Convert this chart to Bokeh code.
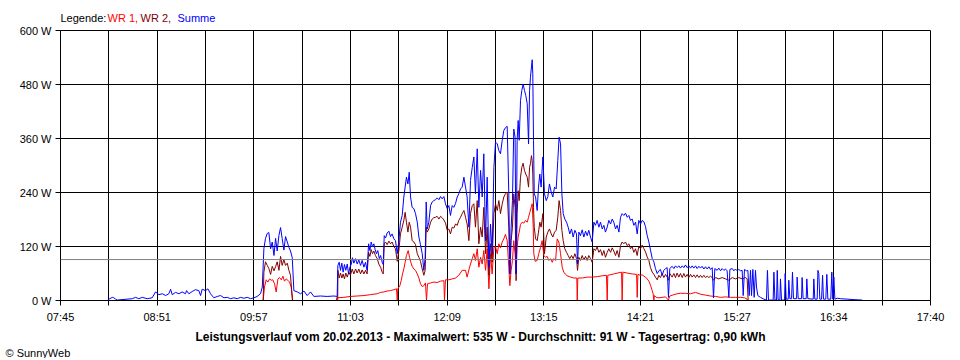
from bokeh.plotting import figure
from bokeh.models import Range1d, FixedTicker, Span, Label, Title
from bokeh.layouts import column
from bokeh.embed import file_html
from bokeh.resources import INLINE

nan = float("nan")

# ---- axis definitions (minutes since midnight, watts) ----
X_START = 465   # 07:45
X_END = 1060    # 17:40
X_TICK_LABELS = ["07:45", "08:51", "09:57", "11:03", "12:09",
                 "13:15", "14:21", "15:27", "16:34", "17:40"]
Y_TICKS = [0, 120, 240, 360, 480, 600]
Y_TICK_LABELS = ["0 W", "120 W", "240 W", "360 W", "480 W", "600 W"]
AVERAGE_W = 91
LEGEND_PREFIX = "Legende: "
SERIES_NAMES = ["WR 1,", "WR 2,", "Summe"]
CAPTION = ("Leistungsverlauf vom 20.02.2013 - Maximalwert: 535 W - "
           "Durchschnitt: 91 W - Tagesertrag: 0,90 kWh")
COPYRIGHT = "\u00a9 SunnyWeb"

# ---- Summe (blue) ----
SUM_T = [497.4, 500.4, 501.5, 502.7, 503.8, 514.1, 516.3, 518.6, 520.9, 524.3,
         527.7, 530.0, 532.3, 534.6, 536.9, 539.1, 540.3, 541.4, 543.7, 546.0,
         548.2, 550.5, 551.2, 552.8, 555.1, 557.3, 559.6, 560.8, 561.9, 564.2,
         565.8, 567.6, 569.9, 572.2, 574.5, 576.8, 579.0, 581.3, 583.6, 585.9,
         588.2, 590.4, 592.7, 595.0, 597.3, 599.5, 601.8, 603.0, 604.1, 605.2,
         606.4, 607.5, 608.7, 609.8, 611.0, 612.1, 613.2, 614.4, 615.5, 616.6,
         617.8, 618.9, 620.1, 621.2, 622.3, 623.5, 624.6, 626.9, 629.2, 631.5,
         633.7, 636.0, 638.3, 642.8, 647.4, 652.0, 654.2,
         654.7, 655.6, 656.5, 657.4, 658.3, 659.2, 660.1, 661.1, 662.0, 662.9,
         663.8, 664.7, 665.6, 666.8, 667.9, 669.0, 670.2, 671.3, 672.5, 673.6,
         674.7, 675.7, 676.6, 677.5, 678.4, 679.3, 680.2, 681.1, 682.0, 683.0,
         683.9, 685.0, 685.7, 686.4, 687.3, 688.4, 689.6, 690.7, 691.8, 693.0,
         694.1, 695.3, 696.4, 697.5, 698.7, 699.8, 700.7, 701.6, 702.6, 703.5,
         704.4, 705.5, 706.7, 707.8, 709.0, 710.1, 711.2, 712.4, 713.5, 714.4,
         715.1, 715.8, 716.9, 718.1, 719.2, 720.3, 721.5, 722.6, 723.8, 724.9,
         726.0, 727.2, 728.3, 729.5, 730.6, 731.7, 732.9, 734.0, 735.2, 736.3,
         737.4, 738.6, 739.7, 740.9, 742.0, 743.1, 744.3, 745.4, 746.6, 747.7,
         748.8, 750.0, 751.1, 752.3, 753.4, 754.5, 755.7, 756.8, 758.0, 759.1,
         760.2, 761.4, 762.5, 763.7, 764.8,
         765.9, 767.1, 768.2, 769.3, 770.5, 771.6, 772.3, 773.2, 774.1, 775.0,
         775.9, 776.6, 777.3, 778.0, 778.7, 779.6, 780.5, 781.4, 782.3, 783.2,
         784.2, 785.1, 785.8, 786.4, 787.1, 787.6, 788.0, 788.5, 789.0, 789.9,
         791.0, 791.9, 792.8, 793.7, 794.9, 796.0, 797.2, 798.3, 799.4, 800.6,
         801.7, 802.9, 804.0, 805.1, 806.0, 807.0, 807.9, 808.8, 809.9, 811.1,
         812.2, 813.3, 814.5, 815.6, 816.8, 817.9, 818.6, 819.5, 820.6, 821.8,
         822.9, 824.1, 825.2, 826.3, 827.5, 828.6, 829.8, 830.9, 832.0, 833.2,
         834.3, 835.5, 836.6, 837.7, 838.9, 840.0, 841.2, 842.3, 843.4, 844.6,
         845.7, 846.9, 848.0, 849.1, 850.3, 851.4, 852.6, 853.7, 854.8, 856.0,
         857.1, 858.3, 859.4, 860.5, 861.7, 862.8,
         864.0, 865.1, 866.2, 867.4, 868.5, 869.7, 870.8, 871.9, 873.1, 874.2,
         875.3, 876.5, 877.6, 878.8, 879.9, 880.8, 881.7, 883.3, 884.5, 885.6,
         886.7, 887.9, 889.0, 890.2, 891.3, 892.4, 893.6, 894.7, 895.9, 897.0,
         898.1, 899.3, 900.4, 901.6, 902.7, 903.8, 905.0, 906.1, 907.3, 908.4,
         909.5, 910.7, 911.6, 912.5, 914.1, 915.2, 916.4, 917.5, 918.7, 919.8,
         920.9, 922.1, 922.8, 924.4, 925.5, 926.6, 927.8, 928.9, 930.1, 931.2,
         931.9, 932.8, 934.2, 935.1, 936.0, 936.9, 937.6, 938.5, 939.4, 940.3,
         941.0, 941.9, 943.7, 946.0, 947.8, 948.5, 949.2, 952.4, 952.9, 953.6,
         954.7, 955.2, 955.8, 957.0, 957.4, 958.1, 960.2, 960.6, 961.3, 962.7,
         963.1, 963.8, 965.0, 965.6, 966.3, 968.4, 968.8, 969.5, 971.8, 972.2,
         972.9, 975.0, 975.4, 976.1, 979.8, 980.2, 980.9, 982.5, 983.0, 983.6,
         984.3, 985.5, 986.2, 986.8, 988.4, 989.1, 989.8, 991.8, 992.5, 993.2,
         993.9, 994.6, 996.2, 998.5, 1003.0, 1007.6, 1013.3]
SUM_W = [1.5, 7, 6, 3, 1, 4, 7, 4, 7, 4,
         6, 19, 13, 15, 11, 15, 25, 13, 18, 15,
         19, 15, 22, 15, 20, 24, 22, 11, 25, 22,
         26, 15, 6, 9, 11, 6, 7, 4, 6, 4,
         7, 5, 7, 4, 6, 9, 15, 30, 115, 138,
         149, 151, 115, 130, 100, 138, 110, 145, 162, 138,
         112, 142, 130, 118, 110, 95, 22, 19, 15, 21,
         11, 19, 9, 10, 9, 10, 9,
         78, 85, 67, 83, 63, 80, 67, 81, 59, 74,
         80, 95, 83, 93, 81, 90, 78, 89, 74, 85,
         67, 126, 111, 130, 119, 126, 113, 104, 111, 93,
         100, 85, 80, 144, 139, 150, 154, 142, 148, 137,
         133, 104, 133, 174, 189, 230, 252, 274, 259, 285,
         230, 207, 204, 193, 174, 141, 124, 104, 67, 96,
         219, 159, 174, 211, 219, 222, 224, 228, 224, 231,
         226, 231, 215, 204, 211, 189, 211, 207, 216, 230,
         237, 248, 252, 274, 252, 230, 163, 267, 296, 319,
         237, 337, 207, 289, 230, 326, 133, 274, 74, 170,
         104, 296, 352, 348, 333,
         326, 356, 378, 384, 387, 237, 59, 163, 222, 381,
         363, 59, 356, 400, 356, 444, 467, 481, 467, 456,
         437, 348, 467, 496, 519, 535, 504, 356, 237, 230,
         200, 252, 281, 252, 319, 237, 222, 231, 259, 241,
         230, 252, 248, 311, 363, 348, 237, 193, 181, 174,
         163, 148, 159, 141, 156, 148, 81, 152, 144, 157,
         141, 154, 144, 156, 141, 130, 174, 167, 178, 163,
         174, 159, 167, 152, 163, 178, 170, 181, 174, 159,
         167, 152, 185, 193, 189, 194, 185, 189, 178, 181,
         167, 174, 148, 178, 170, 178,
         175, 164, 145, 130, 112, 93, 86, 71, 60, 66,
         69, 56, 67, 71, 73, 7, 71, 76, 71, 77,
         73, 77, 72, 77, 73, 79, 73, 77, 72, 77,
         72, 77, 71, 76, 72, 76, 70, 75, 70, 75,
         69, 73, 6, 71, 67, 72, 66, 71, 67, 70,
         66, 7, 69, 71, 66, 70, 66, 69, 66, 67,
         11, 69, 66, 67, 11, 67, 11, 69, 7, 67,
         30, 11, 7, 3, 1, 67, 1, 1, 63, 1,
         1, 67, 1, 1, 48, 1, 1, 60, 3, 3,
         45, 4, 4, 63, 4, 4, 52, 4, 4, 51,
         4, 4, 48, 4, 3, 48, 3, 3, 67, 60,
         3, 3, 56, 3, 3, 58, 3, 3, 63, 3,
         52, 3, 5, 4, 3, 2, 1]

# ---- WR 1 (red) ----
WR1_T = [603.6, 604.5, 605.7, 606.8, 608.0, 609.1, 610.2, 611.4, 612.5, 613.7,
         614.8, 616.0, 617.1, 618.2, 619.4, 620.5, 621.6, 622.8, 623.7, 623.8,
         nan,
         653.7, 653.8, 658.8, 663.3, 667.9, 672.5, 677.0, 681.6, 683.9, 686.1,
         688.4, 690.7, 693.0, 694.8, 695.3, 695.7, 697.1, 698.0, 698.9, 699.8,
         700.7, 701.6, 702.8, 703.7, 704.6, 705.5, 706.7, 707.8, 709.0, 710.1,
         711.2, 712.4, 713.5, 714.6, 715.3, 716.0, 718.1, 720.3, 722.6, 724.9,
         727.2, 727.6, 728.3, 730.6, 732.9, 735.2, 737.4, 739.7, 742.0, 743.1,
         744.3, 745.4, 746.6, 747.7, 748.8, 750.0, 751.1, 752.3, 753.4, 754.5,
         755.7, 756.8, 758.0, 759.1, 760.2, 761.4, 762.5, 763.7, 764.8, 765.9,
         767.1, 768.2, 769.3, 770.5, 771.6, 772.3, 773.2, 774.1, 775.0, 775.9,
         776.6, 777.3, 778.0, 778.7, 779.6, 780.7, 781.9, 783.0, 784.2, 785.1,
         786.0, 786.9, 787.6, 788.3, 788.7, 789.6, 791.0, 792.1, 793.3, 794.4,
         795.6, 796.7, 797.8, 799.0, 800.1, 801.3, 802.4, 803.6, 804.7, 805.8,
         807.0, 808.1, 809.2, 810.4, 811.5, 813.8, 816.1, 818.1, 818.4, 818.8,
         821.8, 825.2, 828.6, 832.0, 835.5, 838.4, 838.9, 839.3, 843.4, 848.7,
         849.1, 849.6, 852.6, 856.0, 859.0, 859.4, 859.9, 861.7, 862.8, 864.0,
         865.1, 866.2, 867.4, 868.5, 869.7, 870.3, 870.8, 871.2, 872.4, 874.2,
         876.5, 878.8, 880.8, 881.7, 884.5, 886.7, 889.0, 892.4, 895.9, 899.3,
         902.7, 906.1, 909.5, 913.0, 916.4, 919.8, 923.2, 926.6, 930.1, 932.8,
         934.6, 934.7]
WR1_W = [0, 30, 46, 41, 48, 45, 46, 37, 19, 48,
         51, 46, 54, 43, 48, 45, 41, 30, 4, 0,
         nan,
         0, 6, 7, 9, 10, 11, 13, 15, 18, 19,
         21, 22, 24, 26, 1, 26, 33, 44, 59, 70,
         85, 100, 111, 96, 85, 76, 70, 67, 59, 50,
         37, 31, 33, 39, 1, 37, 39, 41, 40, 43,
         44, 1, 46, 46, 48, 50, 56, 67, 67, 52,
         68, 81, 93, 104, 89, 115, 74, 96, 81, 111,
         67, 115, 26, 104, 59, 118, 120, 104, 126, 117,
         130, 137, 147, 133, 74, 33, 67, 89, 133, 104,
         59, 118, 141, 152, 169, 174, 172, 178, 174, 185,
         196, 207, 215, 163, 104, 87, 89, 104, 118, 133,
         100, 96, 98, 89, 93, 85, 93, 89, 137, 130,
         104, 74, 63, 58, 55, 52, 50, 50, 1, 50,
         50, 52, 52, 53, 55, 56, 1, 56, 59, 63,
         1, 63, 61, 59, 58, 7, 58, 56, 57, 54,
         52, 48, 43, 34, 22, 15, 1, 11, 7, 6,
         7, 8, 1, 10, 13, 15, 16, 16, 15, 18,
         14, 12, 10, 9, 7, 8, 7, 7, 7, 6,
         3, 0]

# ---- WR 2 (dark red) ----
WR2_T = [603.6, 604.1, 605.2, 606.4, 607.5, 608.7, 609.8, 611.0, 612.1, 613.2,
         614.4, 615.5, 616.6, 617.8, 618.9, 620.1, 621.2, 622.3, 623.5, 623.6,
         nan,
         654.6, 654.7, 655.6, 656.5, 657.4, 658.3, 659.2, 660.1, 661.1, 662.2,
         663.3, 664.5, 665.6, 666.8, 667.9, 669.0, 670.2, 671.3, 672.5, 673.6,
         674.7, 675.7, 676.6, 677.5, 678.4, 679.3, 680.4, 681.6, 682.7, 683.9,
         685.0, 685.7, 686.4, 687.3, 688.4, 689.6, 690.7, 691.8, 693.0, 694.1,
         695.3, 696.4, 697.5, 698.7, 699.8, 700.7, 701.6, 702.6, 703.5, 704.4,
         705.5, 706.7, 707.8, 709.0, 710.1, 711.2, 712.4, 713.5, 714.4, 715.1,
         715.8, 716.9, 718.1, 719.2, 720.3, 721.5, 722.6, 723.8, 724.9, 726.0,
         727.2, 728.3, 729.5, 730.6, 731.7, 732.9, 734.0, 735.2, 736.3, 737.4,
         738.6, 739.7, 740.9, 742.0, 743.1, 744.3, 745.4, 746.6, 747.7, 748.8,
         750.0, 751.1, 752.3, 753.4, 754.5, 755.7, 756.8, 758.0, 759.1, 760.2,
         761.4, 762.5, 763.7, 764.8,
         765.9, 767.1, 768.2, 769.3, 770.5, 771.6, 772.3, 773.2, 774.1, 775.0,
         775.9, 776.6, 777.3, 778.0, 778.7, 779.6, 780.5, 781.4, 782.3, 783.2,
         784.2, 785.1, 785.8, 786.4, 787.1, 787.6, 788.0, 788.5, 789.0, 789.9,
         791.0, 791.9, 792.8, 793.7, 794.9, 796.0, 797.2, 798.3, 799.4, 800.6,
         801.7, 802.9, 804.0, 805.1, 806.0, 807.0, 807.9, 808.8, 809.9, 811.1,
         812.2, 813.3, 814.5, 815.6, 816.8, 817.9, 818.6, 819.5, 820.6, 821.8,
         822.9, 824.1, 825.2, 826.3, 827.5, 828.6, 829.8, 830.9, 832.0, 833.2,
         834.3, 835.5, 836.6, 837.7, 838.9, 840.0, 841.2, 842.3, 843.4, 844.6,
         845.7, 846.9, 848.0, 849.1, 850.3, 851.4, 852.6, 853.7, 854.8, 856.0,
         857.1, 858.3, 859.4, 860.5, 861.7,
         862.8, 864.0, 865.1, 866.2, 867.4, 868.5, 869.7, 870.8, 871.9, 873.1,
         874.2, 875.3, 876.5, 877.6, 878.8, 879.9, 880.8, 881.7, 883.3, 884.5,
         885.6, 886.7, 887.9, 889.0, 890.2, 891.3, 892.4, 893.6, 894.7, 895.9,
         897.0, 898.1, 899.3, 900.4, 901.6, 902.7, 903.8, 905.0, 906.1, 907.3,
         908.4, 909.5, 910.7, 911.6, 913.0, 915.2, 917.5, 919.8, 922.1, 924.4,
         926.6, 928.9, 931.2, 933.5, 934.6, 935.3]
WR2_W = [0, 63, 86, 78, 71, 58, 76, 66, 75, 86,
         67, 98, 78, 91, 78, 83, 67, 56, 4, 0,
         nan,
         0, 67, 50, 61, 50, 59, 48, 61, 52, 63,
         56, 70, 59, 70, 61, 70, 59, 68, 59, 67,
         59, 107, 98, 113, 104, 110, 100, 93, 81, 74,
         63, 59, 126, 130, 124, 132, 126, 130, 120, 115,
         87, 111, 148, 163, 178, 196, 174, 152, 174, 163,
         133, 130, 124, 104, 96, 87, 70, 56, 67, 163,
         152, 159, 174, 181, 184, 185, 187, 181, 187, 184,
         179, 172, 156, 159, 148, 163, 161, 170, 167, 178,
         185, 193, 200, 185, 170, 133, 193, 211, 215, 163,
         222, 126, 163, 141, 207, 104, 163, 56, 126, 85,
         193, 215, 200, 222,
         193, 215, 230, 237, 241, 163, 59, 133, 163, 237,
         207, 44, 193, 244, 222, 274, 296, 305, 289, 281,
         274, 252, 296, 304, 322, 311, 281, 207, 163, 137,
         133, 152, 174, 163, 193, 104, 141, 152, 159, 148,
         141, 152, 156, 185, 222, 200, 156, 133, 115, 107,
         100, 93, 100, 93, 104, 93, 67, 96, 89, 100,
         90, 98, 89, 100, 93, 85, 115, 111, 119, 107,
         113, 100, 111, 96, 107, 115, 107, 117, 110, 100,
         111, 96, 122, 130, 126, 130, 122, 126, 115, 119,
         107, 115, 100, 120, 115,
         123, 115, 108, 97, 89, 73, 63, 58, 52, 46,
         56, 51, 60, 51, 58, 52, 45, 60, 52, 60,
         51, 61, 52, 60, 51, 60, 52, 58, 51, 58,
         52, 57, 51, 57, 51, 56, 51, 56, 51, 54,
         51, 54, 51, 45, 51, 48, 51, 48, 45, 51,
         48, 51, 48, 51, 48, 0]

COLOR_WR1 = "#ff0000"
COLOR_WR2 = "#800000"
COLOR_SUM = "#0000ff"
FONT = "Liberation Sans"

W = 958
TOP_H = 24          # strip holding the legend text
MAIN_H = 302        # plot: 6 px above frame, 270 px frame, 26 px axis
BOT_H = 32          # strip holding caption and copyright


def text_strip(height):
    f = figure(width=W, height=height, output_backend="svg",
               toolbar_location=None, x_axis_type=None, y_axis_type=None,
               x_range=Range1d(0, 1), y_range=Range1d(0, 1),
               min_border_left=0, min_border_right=0,
               min_border_top=0, min_border_bottom=0)
    f.outline_line_color = None
    f.background_fill_color = "white"
    f.border_fill_color = "white"
    f.grid.visible = False
    return f


# ---- legend strip (screen units are relative to the aligned frame) ----
top = text_strip(TOP_H)
items = [(LEGEND_PREFIX, "black", 0), (SERIES_NAMES[0], COLOR_WR1, 47),
         (SERIES_NAMES[1], COLOR_WR2, 80), (SERIES_NAMES[2], COLOR_SUM, 117)]
for txt, col, xx in items:
    top.add_layout(Label(x=xx, y=7, x_units="screen", y_units="screen",
                         text=txt, text_color=col, text_font=FONT,
                         text_font_size="11px", text_baseline="middle",
                         text_align="left"))

# ---- main plot ----
p = figure(width=W, height=MAIN_H, output_backend="svg", toolbar_location=None,
           x_range=Range1d(X_START, X_END), y_range=Range1d(0, 600),
           min_border_left=60, min_border_right=28, min_border_top=6,
           min_border_bottom=26)
p.background_fill_color = "white"
p.border_fill_color = "white"
p.outline_line_color = "black"
p.outline_line_width = 1

n_int = 18
x_ticks = [X_START + k * (X_END - X_START) / n_int for k in range(n_int + 1)]
x_over = {}
for k, t in enumerate(x_ticks):
    x_over[t] = X_TICK_LABELS[k // 2] if k % 2 == 0 else ""

p.xaxis.ticker = FixedTicker(ticks=x_ticks)
p.xaxis.major_label_overrides = x_over
p.yaxis.ticker = FixedTicker(ticks=Y_TICKS)
p.yaxis.major_label_overrides = {v: s for v, s in zip(Y_TICKS, Y_TICK_LABELS)}
p.xgrid.ticker = FixedTicker(ticks=x_ticks)
p.ygrid.ticker = FixedTicker(ticks=Y_TICKS)
for g in (p.xgrid, p.ygrid):
    g.grid_line_color = "black"
    g.grid_line_width = 1
    g.grid_line_alpha = 1

for ax in (p.xaxis, p.yaxis):
    ax.axis_line_color = "black"
    ax.major_tick_line_color = "black"
    ax.major_tick_out = 5
    ax.major_tick_in = 0
    ax.minor_tick_line_color = None
    ax.major_label_text_font = FONT
    ax.major_label_text_font_size = "11px"
    ax.major_label_text_color = "black"
p.xaxis.major_label_standoff = 5
p.yaxis.major_label_standoff = 4

p.line(WR1_T, WR1_W, line_color=COLOR_WR1, line_width=1)
p.line(WR2_T, WR2_W, line_color=COLOR_WR2, line_width=1)
p.line(SUM_T, SUM_W, line_color=COLOR_SUM, line_width=1)

p.add_layout(Span(location=AVERAGE_W, dimension="width",
                  line_color="#808080", line_width=1))

# ---- caption strip: caption as label, copyright as a left title below ----
bot = text_strip(BOT_H)
bot.add_layout(Title(text=COPYRIGHT, align="left", offset=-55, standoff=0,
                     text_font=FONT, text_font_size="11px",
                     text_font_style="normal", text_color="black"), "below")
bot.add_layout(Label(x=420, y=8, x_units="screen", y_units="screen",
                     text=CAPTION, text_font=FONT, text_font_style="bold",
                     text_font_size="12px", text_baseline="middle",
                     text_align="center", text_color="black"))

layout = column(top, p, bot, spacing=0)
open("out.html", "w").write(file_html(layout, INLINE))
